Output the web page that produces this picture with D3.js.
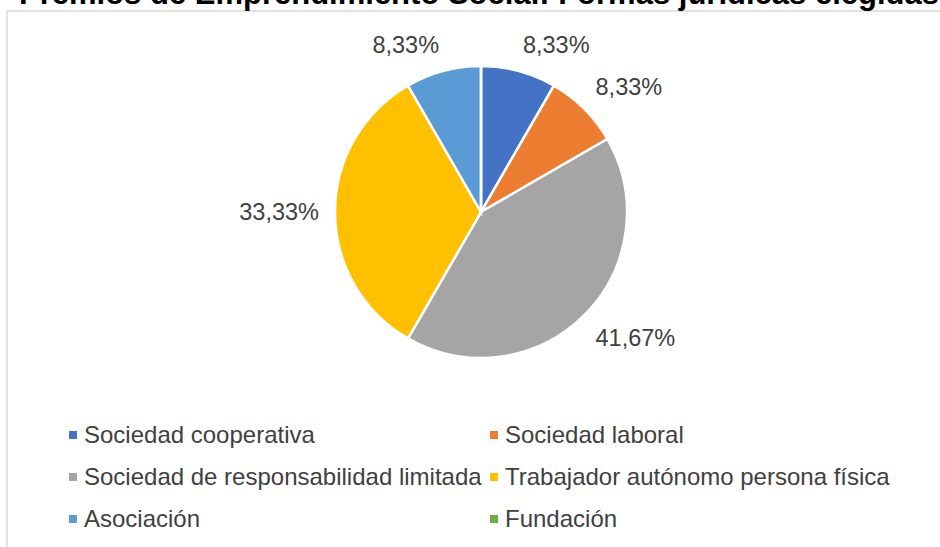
<!DOCTYPE html>
<meta charset="utf-8">
<style>
body { margin: 0; background: #fff; }
text { font-family: "Liberation Sans", Arial, sans-serif; }
</style>
<svg width="940" height="547"></svg>
<script src="https://d3js.org/d3.v7.min.js"></script>
<script>

var categories = ["Sociedad cooperativa", "Sociedad laboral", "Sociedad de responsabilidad limitada",
                  "Trabajador autónomo persona física", "Asociación", "Fundación"];
var values = [1, 1, 5, 4, 1, 0];
var colors = ["#4472C4", "#ED7D31", "#A5A5A5", "#FFC000", "#5B9BD5", "#70AD47"];
var title = "Premios de Emprendimiento Social: Formas jurídicas elegidas";

var svg = d3.select("svg"),
    width = +svg.attr("width"),
    height = +svg.attr("height");

// chart border (runs past the right/bottom edge like in the screenshot)
svg.append("rect")
    .attr("x", 7).attr("y", 11)
    .attr("width", 1000).attr("height", 600)
    .attr("fill", "none")
    .attr("stroke", "#d9d9d9")
    .attr("stroke-width", 1.5);

svg.append("text")
    .attr("x", 19).attr("y", 4)
    .attr("font-size", 31)
    .attr("font-weight", "bold")
    .attr("fill", "#000")
    .text(title);

var cx = 481, cy = 212, r = 146;
var total = d3.sum(values);

var pie = d3.pie().sort(null).value(function(d) { return d; });
var arc = d3.arc().innerRadius(0).outerRadius(r);
var arcs = pie(values);

var g = svg.append("g").attr("transform", "translate(" + cx + "," + cy + ")");

g.selectAll("path")
    .data(arcs)
    .enter().append("path")
      .attr("d", arc)
      .attr("fill", function(d, i) { return colors[i]; })
      .attr("stroke", "#fff")
      .attr("stroke-width", 2.5);

var fmt = function(v) { return d3.format(".2f")(v * 100).replace(".", ",") + "%"; };

// outside labels: nearest corner of the label box sits just outside the arc
var gap = 16, halfH = 11;
var labels = g.selectAll("text.lbl")
    .data(arcs.filter(function(d) { return d.value > 0; }))
    .enter().append("text")
      .attr("class", "lbl")
      .attr("dy", "0.35em")
      .attr("text-anchor", "middle")
      .attr("font-size", 23.5)
      .attr("fill", "#404040")
      .text(function(d) { return fmt(d.value / total); });

labels.each(function(d) {
  var a = (d.startAngle + d.endAngle) / 2,
      s = Math.sin(a), c = Math.cos(a),
      halfW = this.getComputedTextLength() / 2,
      px = s * (r + gap), py = -c * (r + gap);
  if (Math.abs(s) > 0.1) px += Math.sign(s) * halfW;
  if (Math.abs(c) > 0.1) py -= Math.sign(c) * halfH;
  d3.select(this).attr("x", px).attr("y", py);
});

// legend, two columns
var colX = [69, 490], rowY0 = 434, rowH = 42;
var leg = svg.selectAll("g.leg")
    .data(categories)
    .enter().append("g")
      .attr("class", "leg")
      .attr("transform", function(d, i) {
        return "translate(" + colX[i % 2] + "," + (rowY0 + Math.floor(i / 2) * rowH) + ")";
      });

leg.append("rect")
    .attr("x", 0).attr("y", -3)
    .attr("width", 8).attr("height", 8)
    .attr("fill", function(d, i) { return colors[i]; });

leg.append("text")
    .attr("x", 15).attr("y", 8.5)
    .attr("font-size", 24)
    .attr("fill", "#404040")
    .text(function(d) { return d; });

</script>
